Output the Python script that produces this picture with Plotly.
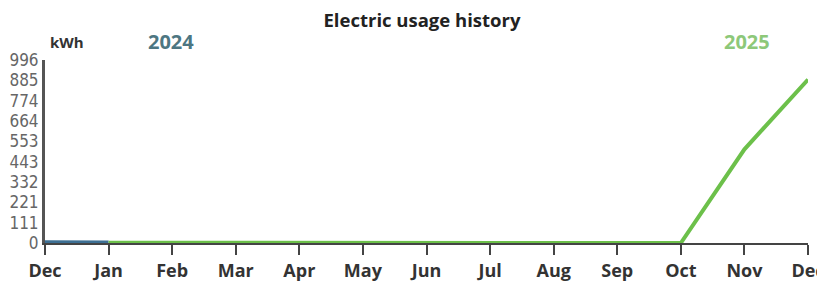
import plotly.graph_objects as go

months = ["Dec", "Jan", "Feb", "Mar", "Apr", "May", "Jun", "Jul", "Aug", "Sep", "Oct", "Nov", "Dec"]
usage_2024 = [4, 3]                    # Dec -> Jan
usage_2025 = [2, 1, 1, 1, 1, 1, 0, 0, 0, 0, 510, 890]  # Jan -> Dec
y_max = 996
y_tick_labels = ["0", "111", "221", "332", "443", "553", "664", "774", "885", "996"]

x_pos = list(range(len(months)))

# page body has an 8px margin, so the figure is laid out 8px in from the window edge
W, H = 817, 277
L, R, T, B = 37, 17, 52, 42
plot_h = H - T - B
plot_w = W - L - R

fig = go.Figure()
fig.add_trace(go.Scatter(x=x_pos[0:2], y=usage_2024, mode="lines",
                         line=dict(color="#3d6f93", width=4), showlegend=False, hoverinfo="skip"))
fig.add_trace(go.Scatter(x=x_pos[1:], y=usage_2025, mode="lines",
                         line=dict(color="#6cc04a", width=4), showlegend=False, hoverinfo="skip"))

fig.update_layout(
    width=W, height=H,
    margin=dict(l=L, r=R, t=T, b=B),
    paper_bgcolor="white", plot_bgcolor="white",
    title=dict(text="<b>Electric usage history</b>", x=(422 - 8) / W, xanchor="center",
               y=1 - 13 / H, yanchor="middle",
               font=dict(family="Open Sans", size=18.5, color="#222")),
    xaxis=dict(range=[0, 12], tickvals=x_pos, ticktext=[f"<b>{m}</b>" for m in months],
               showline=True, linecolor="#444", linewidth=2, ticks="outside", ticklen=10,
               tickwidth=2, tickcolor="#444", showgrid=False, zeroline=False, automargin=False,
               tickfont=dict(family="Open Sans", size=18, color="#333")),
    yaxis=dict(range=[0, y_max], tickvals=[i * y_max / 9 for i in range(10)],
               ticktext=y_tick_labels, showline=True, linecolor="#555",
               linewidth=3, ticks="", showgrid=False, zeroline=False, automargin=False,
               ticklabelstandoff=0,
               tickfont=dict(family="DejaVu Sans Condensed, DejaVu Sans", size=17, color="#666")),
    annotations=[
        dict(text="<b>kWh</b>", xref="paper", yref="paper", x=3 / plot_w, y=1 + 18 / plot_h,
             xanchor="left", yanchor="middle", showarrow=False,
             font=dict(family="Open Sans", size=15, color="#333")),
        dict(text="<b>2024</b>", xref="x", yref="paper", x=1.98, y=1 + 18 / plot_h, xanchor="center",
             yanchor="middle", showarrow=False,
             font=dict(family="Open Sans", size=20, color="#4d7682")),
        dict(text="<b>2025</b>", xref="x", yref="paper", x=11.04, y=1 + 18 / plot_h, xanchor="center",
             yanchor="middle", showarrow=False,
             font=dict(family="Open Sans", size=20, color="#8dc879")),
    ],
)

fig.write_html("out.html")
